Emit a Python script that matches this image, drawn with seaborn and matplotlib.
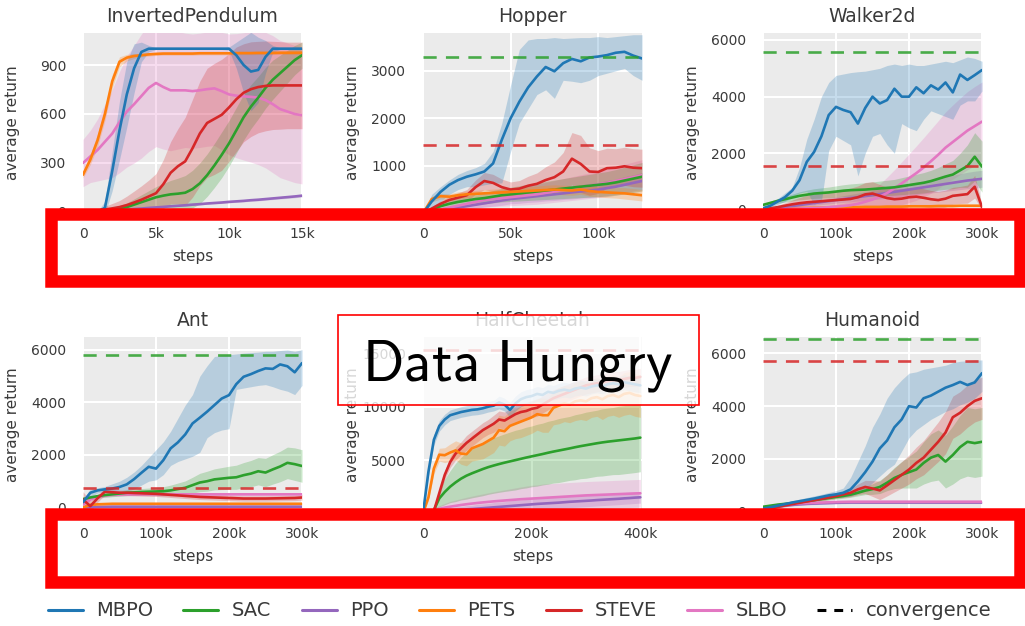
import numpy as np
import pandas as pd
import matplotlib
matplotlib.use("Agg")
import matplotlib.pyplot as plt
import seaborn as sns
from matplotlib.patches import Rectangle
from matplotlib.lines import Line2D

# ---------------------------------------------------------------- data
methods = ["MBPO", "SAC", "PPO", "PETS", "STEVE", "SLBO"]
palette = {"MBPO": "#1f77b4", "SAC": "#2ca02c", "PPO": "#9467bd",
           "PETS": "#ff7f0e", "STEVE": "#d62728", "SLBO": "#e377c2"}

# InvertedPendulum
ip_steps = list(range(0, 15001, 500))
ip_mbpo = [0, 0, 0, 25, 250, 500, 720, 880, 980, 1000, 1000, 1000, 1000, 1000, 1000, 1000, 1000, 1000, 1000, 1000,
           1000, 960, 900, 860, 870, 950, 1000, 1000, 1000, 1000, 1000]
ip_mbpo_sd = [0, 0, 5, 40, 120, 180, 200, 150, 60, 20, 5, 5, 5, 5, 5, 5, 5, 5, 5, 5,
              10, 80, 170, 240, 200, 100, 20, 5, 5, 5, 5]
ip_pets = [228, 320, 440, 600, 800, 920, 945, 955, 960, 965, 968, 970, 970, 970, 970, 970, 972, 972, 972, 972,
           972, 973, 973, 973, 974, 974, 974, 975, 975, 975, 975]
ip_pets_sd = [20, 30, 40, 40, 40, 30, 20, 15, 10, 10, 10, 10, 10, 10, 10, 10, 10, 10, 10, 10,
              10, 10, 10, 10, 10, 10, 10, 10, 10, 10, 10]
ip_slbo = [300, 340, 380, 430, 480, 550, 615, 660, 710, 760, 790, 765, 745, 745, 745, 740, 745, 752, 757, 740,
           720, 712, 708, 705, 700, 685, 660, 630, 615, 600, 592]
ip_slbo_sd = [145, 160, 190, 230, 270, 310, 340, 360, 380, 390, 390, 380, 370, 360, 350, 350, 350, 350, 350, 360,
              370, 380, 390, 400, 410, 415, 420, 420, 420, 420, 420]
ip_steve = [0, 3, 8, 15, 22, 30, 42, 58, 75, 95, 115, 170, 240, 280, 310, 390, 480, 545, 570, 595,
            640, 690, 730, 752, 765, 772, 775, 775, 775, 775, 775]
ip_steve_sd = [0, 5, 10, 20, 30, 40, 55, 70, 85, 100, 120, 150, 190, 230, 270, 300, 320, 335, 340, 340,
               330, 320, 300, 290, 280, 275, 270, 268, 265, 265, 265]
ip_sac = [0, 2, 5, 10, 15, 22, 30, 45, 60, 75, 90, 100, 108, 112, 118, 140, 175, 225, 285, 350,
          420, 500, 580, 645, 700, 760, 810, 850, 890, 930, 960]
ip_sac_sd = [0, 2, 4, 8, 12, 18, 25, 35, 45, 55, 65, 75, 85, 95, 105, 115, 125, 130, 135, 140,
             140, 140, 140, 135, 130, 125, 120, 110, 100, 90, 80]
ip_ppo = [0, 2, 4, 6, 9, 12, 15, 18, 21, 25, 28, 31, 35, 38, 41, 45, 48, 52, 55, 58,
          62, 65, 68, 72, 75, 79, 83, 87, 91, 95, 100]
ip_ppo_sd = [0, 1, 1, 2, 2, 2, 3, 3, 3, 3, 4, 4, 4, 4, 5, 5, 5, 5, 5, 6,
             6, 6, 6, 6, 7, 7, 7, 7, 8, 8, 8]

# Hopper
hop_steps = list(range(0, 125001, 5000))
hop_mbpo = [0, 250, 450, 600, 700, 770, 820, 880, 1050, 1550, 2000, 2350, 2650, 2880, 3080, 2990, 3160, 3250,
            3200, 3280, 3300, 3330, 3380, 3400, 3320, 3260]
hop_mbpo_lo = [0, 100, 250, 400, 500, 560, 560, 600, 630, 640, 1300, 1900, 2200, 2500, 2600, 2420, 2800, 2780,
               2750, 2800, 2900, 2950, 3000, 3050, 2900, 2800]
hop_mbpo_hi = [0, 400, 560, 700, 820, 900, 960, 1050, 1300, 1900, 2700, 3450, 3650, 3680, 3680, 3700, 3680, 3690,
               3700, 3700, 3720, 3700, 3720, 3740, 3760, 3760]
hop_steve = [0, 100, 200, 280, 330, 380, 550, 680, 640, 550, 500, 520, 580, 620, 700, 760, 880, 1150, 1040, 880,
             870, 950, 960, 990, 960, 950]
hop_steve_sd = [0, 40, 60, 80, 100, 120, 150, 180, 180, 170, 160, 170, 200, 230, 280, 320, 400, 550, 600, 500,
                450, 420, 400, 400, 400, 400]
hop_sac = [0, 80, 150, 200, 240, 270, 300, 320, 350, 380, 400, 420, 440, 460, 480, 500, 520, 540, 560, 580,
           600, 620, 650, 690, 730, 770]
hop_sac_sd = [0, 40, 60, 80, 90, 100, 110, 120, 130, 140, 150, 160, 170, 180, 190, 200, 210, 220, 230, 240,
              250, 260, 270, 280, 290, 300]
hop_pets = [0, 300, 360, 350, 380, 400, 410, 420, 430, 440, 450, 460, 470, 480, 490, 500, 490, 480, 500, 470,
            450, 440, 430, 420, 400, 380]
hop_pets_sd = [0, 60, 60, 60, 70, 70, 70, 80, 80, 80, 80, 90, 90, 90, 100, 100, 100, 100, 100, 110,
               110, 110, 110, 120, 120, 120]
hop_slbo = [0, 40, 80, 120, 160, 200, 240, 280, 300, 320, 340, 360, 380, 400, 430, 460, 490, 520, 550, 580,
            610, 640, 680, 720, 760, 800]
hop_slbo_sd = [0, 30, 50, 70, 90, 110, 130, 150, 160, 170, 180, 190, 200, 210, 220, 230, 240, 250, 260, 270,
               280, 290, 300, 310, 320, 330]
hop_ppo = [0, 30, 60, 90, 120, 150, 180, 210, 240, 270, 300, 320, 340, 360, 380, 400, 420, 440, 460, 480,
           500, 530, 560, 600, 640, 680]
hop_ppo_sd = [0, 20, 30, 40, 50, 60, 70, 80, 90, 100, 100, 110, 110, 120, 120, 130, 130, 140, 140, 150,
              150, 160, 160, 170, 170, 180]

# Walker2d
wk_steps = list(range(0, 300001, 10000))
wk_mbpo = [60, 150, 300, 450, 680, 1050, 1700, 2050, 2600, 3350, 3640, 3530, 3450, 3050, 3600, 4000, 3760, 3880,
           4280, 4000, 4000, 4330, 4120, 4400, 4250, 4500, 4150, 4780, 4590, 4760, 4940]
wk_mbpo_lo = [40, 100, 200, 300, 450, 600, 650, 200, 300, 2100, 2600, 2450, 2300, 1200, 2000, 2600, 2700, 2300,
              2000, 3050, 2900, 2800, 3200, 3500, 3400, 3300, 3200, 3700, 3850, 3850, 4200]
wk_mbpo_hi = [80, 200, 400, 600, 800, 1500, 2500, 3200, 4000, 4500, 4750, 4800, 4850, 4880, 4900, 4950, 5000, 5100,
              5150, 5100, 5150, 5100, 5100, 5150, 5200, 5250, 5200, 5300, 5400, 5350, 5250]
wk_slbo = [0, 10, 20, 30, 40, 50, 60, 70, 80, 100, 120, 140, 170, 220, 290, 370, 470, 600, 760, 940,
           1120, 1300, 1500, 1720, 1950, 2200, 2400, 2600, 2800, 2960, 3120]
wk_slbo_sd = [0, 10, 15, 20, 25, 30, 35, 40, 50, 60, 80, 100, 140, 200, 260, 330, 450, 560, 660, 760,
              860, 960, 1050, 1130, 1200, 1260, 1310, 1350, 1380, 1400, 1400]
wk_sac = [180, 250, 320, 380, 440, 500, 540, 580, 600, 620, 650, 680, 700, 710, 720, 740, 760, 780, 800, 840,
          880, 920, 960, 1020, 1100, 1180, 1250, 1400, 1550, 1880, 1530]
wk_sac_sd = [40, 60, 80, 100, 120, 140, 160, 170, 180, 190, 200, 210, 220, 230, 240, 250, 260, 270, 280, 300,
             320, 340, 360, 380, 400, 450, 500, 600, 750, 850, 900]
wk_steve = [20, 60, 100, 150, 200, 240, 270, 290, 310, 330, 350, 370, 390, 450, 550, 580, 500, 420, 380, 400,
            450, 470, 430, 380, 350, 400, 500, 530, 560, 820, 100]
wk_steve_sd = [0, 30, 60, 100, 150, 200, 250, 280, 300, 320, 340, 360, 380, 400, 420, 420, 400, 380, 360, 350,
               340, 330, 320, 310, 300, 300, 300, 300, 320, 400, 100]
wk_ppo = [0, 35, 70, 105, 140, 175, 210, 245, 280, 315, 350, 385, 420, 455, 490, 525, 560, 600, 640, 680,
          720, 760, 800, 840, 880, 920, 960, 1000, 1040, 1070, 1100]
wk_ppo_sd = [0, 20, 30, 40, 50, 60, 70, 80, 90, 100, 110, 120, 130, 140, 150, 160, 170, 180, 190, 200,
             210, 220, 230, 240, 250, 260, 270, 280, 290, 300, 300]
wk_pets = [0, 20, 40, 50, 60, 70, 70, 80, 80, 90, 90, 100, 100, 100, 110, 110, 110, 120, 120, 120,
           130, 130, 130, 130, 140, 140, 140, 150, 150, 150, 150]
wk_pets_sd = [0, 20, 30, 30, 30, 30, 30, 30, 30, 30, 30, 30, 30, 30, 30, 30, 30, 30, 30, 30,
              30, 30, 30, 30, 30, 30, 30, 30, 30, 30, 30]

# Ant
ant_steps = list(range(0, 300001, 10000))
ant_mbpo = [200, 560, 650, 690, 720, 780, 880, 1080, 1320, 1550, 1480, 1800, 2250, 2480, 2780, 3200, 3420, 3650,
            3900, 4150, 4280, 4700, 4980, 5080, 5200, 5300, 5280, 5450, 5380, 5150, 5500]
ant_mbpo_lo = [100, 400, 550, 600, 600, 620, 630, 700, 850, 1000, 1050, 1250, 1600, 1750, 1850, 1950, 2100, 2660,
               2850, 2950, 3000, 4500, 4550, 4600, 4650, 4680, 4600, 4500, 4430, 4300, 4650]
ant_mbpo_hi = [300, 700, 750, 800, 900, 1000, 1150, 1350, 1600, 1900, 2200, 2500, 2900, 3400, 3900, 4300, 5000,
               5400, 5750, 5800, 5820, 5850, 5880, 5900, 5920, 5950, 5950, 5980, 6000, 5950, 6010]
ant_sac = [320, 380, 430, 470, 500, 530, 560, 575, 590, 600, 610, 620, 650, 700, 750, 850, 950, 1000, 1070, 1100,
           1130, 1150, 1230, 1290, 1380, 1330, 1450, 1560, 1700, 1650, 1580]
ant_sac_sd = [50, 60, 70, 80, 90, 100, 110, 120, 130, 140, 150, 170, 200, 230, 260, 300, 350, 380, 400, 420,
              440, 460, 480, 500, 520, 540, 560, 580, 600, 620, 620]
ant_steve = [300, 50, 350, 600, 580, 560, 560, 550, 540, 530, 520, 500, 480, 460, 440, 420, 400, 390, 380, 370,
             360, 350, 340, 340, 340, 340, 345, 350, 355, 360, 380]
ant_steve_sd = [300, 200, 150, 120, 110, 100, 100, 100, 100, 100, 100, 100, 100, 100, 100, 100, 100, 100, 100, 100,
                100, 100, 100, 100, 100, 100, 100, 100, 100, 100, 100]
ant_slbo = [100, 300, 400, 450, 480, 490, 500, 500, 500, 500, 500, 500, 500, 500, 500, 500, 500, 500, 500, 500,
            500, 500, 500, 500, 500, 500, 500, 500, 500, 500, 500]
ant_slbo_sd = [20, 40, 50, 60, 60, 60, 60, 60, 60, 60, 60, 60, 60, 60, 60, 60, 60, 60, 60, 60,
               60, 60, 60, 60, 60, 60, 60, 60, 60, 60, 60]
ant_pets = [0, 100, 120, 130, 140, 140, 140, 140, 140, 140, 140, 140, 140, 140, 140, 140, 140, 140, 140, 140,
            140, 140, 140, 140, 140, 140, 140, 140, 140, 140, 140]
ant_pets_sd = [0, 40, 50, 50, 50, 50, 50, 50, 50, 50, 50, 50, 50, 50, 50, 50, 50, 50, 50, 50,
               50, 50, 50, 50, 50, 50, 50, 50, 50, 50, 50]
ant_ppo = [0, 10, 20, 25, 30, 30, 30, 30, 30, 30, 30, 30, 30, 30, 30, 30, 30, 30, 30, 30,
           30, 30, 30, 30, 30, 30, 30, 30, 30, 30, 30]
ant_ppo_sd = [0, 10, 20, 20, 20, 20, 20, 20, 20, 20, 20, 20, 20, 20, 20, 20, 20, 20, 20, 20,
              20, 20, 20, 20, 20, 20, 20, 20, 20, 20, 20]

# HalfCheetah
hc_steps = list(range(0, 400001, 10000))
hc_mbpo = [0, 3900, 6900, 8200, 8800, 9200, 9350, 9500, 9600, 9700, 9750, 9850, 10000, 10100, 10400, 10200, 9700,
           10300, 10700, 10900, 11000, 11200, 11100, 11400, 11300, 11500, 11600, 11500, 11700, 11800, 11700, 11900,
           12000, 11900, 12100, 12200, 12100, 12300, 12200, 12100, 12000]
hc_mbpo_sd = [0, 400, 500, 500, 500, 500, 500, 500, 500, 500, 500, 500, 500, 500, 600, 600, 700, 700, 700, 700,
              700, 700, 700, 700, 700, 700, 700, 700, 700, 700, 700, 700, 700, 700, 700, 700, 700, 700, 700, 700, 700]
hc_pets = [0, 1500, 4200, 5500, 5450, 5700, 5900, 5600, 5550, 6100, 6300, 6500, 6800, 7100, 7800, 7700, 8200, 8400,
           8600, 8800, 9000, 9300, 9200, 9200, 9900, 10100, 10300, 10200, 10500, 10600, 10500, 10800, 10900, 10700,
           11000, 11100, 10900, 11200, 11300, 11100, 11000]
hc_pets_sd = [0, 300, 500, 600, 700, 800, 900, 1000, 1100, 1200, 1300, 1400, 1400, 1400, 1400, 1400, 1400, 1400,
              1500, 1500, 1500, 1500, 1600, 1600, 1600, 1700, 1700, 1700, 1800, 1800, 1800, 1800, 1800, 1900, 1900,
              1900, 1900, 2000, 2000, 2000, 2000]
hc_steve = [0, 0, 200, 1900, 3600, 4800, 5600, 6100, 6600, 7000, 7400, 7800, 8100, 8400, 8800, 8700, 9000, 9300,
            9500, 9600, 9800, 9900, 10200, 10500, 10800, 11000, 11200, 11400, 11600, 11800, 12000, 12100, 12200,
            12300, 12400, 12500, 12500, 12600, 12700, 12700, 12800]
hc_steve_sd = [0, 0, 100, 300, 400, 500, 600, 600, 700, 700, 700, 700, 700, 800, 800, 800, 800, 800, 800, 800,
               800, 800, 800, 800, 800, 800, 800, 800, 800, 800, 800, 800, 800, 800, 800, 800, 800, 800, 800, 800, 800]
hc_sac = [0, 0, 300, 1400, 2000, 2500, 2900, 3250, 3530, 3750, 3950, 4150, 4330, 4480, 4620, 4750, 4870, 4990,
          5110, 5230, 5340, 5450, 5560, 5680, 5790, 5890, 5990, 6090, 6200, 6300, 6390, 6480, 6570, 6650, 6720,
          6780, 6840, 6900, 6960, 7020, 7100]
hc_sac_sd = [0, 0, 200, 800, 1200, 1500, 1800, 2000, 2200, 2300, 2400, 2500, 2550, 2600, 2650, 2700, 2750, 2800,
             2800, 2850, 2850, 2900, 2900, 2950, 2950, 3000, 3000, 3000, 3050, 3050, 3100, 3100, 3100, 3150, 3150,
             3150, 3200, 3200, 3200, 3200, 3200]
hc_slbo = [0, 150, 300, 420, 530, 620, 700, 780, 850, 910, 970, 1020, 1070, 1120, 1160, 1200, 1240, 1280, 1320,
           1350, 1380, 1410, 1440, 1470, 1500, 1530, 1560, 1590, 1620, 1650, 1680, 1700, 1720, 1740, 1760, 1780,
           1800, 1820, 1840, 1860, 1880]
hc_slbo_sd = [0, 100, 200, 300, 400, 500, 550, 600, 650, 700, 750, 800, 850, 900, 950, 1000, 1050, 1100, 1150,
              1200, 1250, 1250, 1300, 1300, 1300, 1300, 1300, 1300, 1300, 1300, 1300, 1300, 1300, 1300, 1300, 1300,
              1300, 1300, 1300, 1300, 1300]
hc_ppo = [0, 50, 100, 150, 200, 250, 290, 330, 370, 400, 440, 480, 520, 560, 600, 640, 680, 720, 760, 800,
          840, 880, 910, 940, 970, 1000, 1040, 1080, 1110, 1140, 1170, 1200, 1240, 1270, 1300, 1330, 1360, 1400,
          1430, 1470, 1500]
hc_ppo_sd = [0, 50, 100, 150, 200, 250, 300, 300, 350, 350, 400, 400, 400, 450, 450, 450, 500, 500, 500, 500,
             550, 550, 550, 550, 550, 550, 550, 550, 550, 550, 550, 550, 550, 550, 550, 550, 550, 550, 550, 550, 550]

# Humanoid
hm_steps = list(range(0, 300001, 10000))
hm_mbpo = [120, 170, 230, 290, 350, 400, 450, 500, 560, 620, 660, 720, 850, 1150, 1500, 1900, 2400, 2700, 3200,
           3500, 4000, 3950, 4300, 4400, 4550, 4700, 4800, 4920, 4800, 4900, 5250]
hm_mbpo_lo = [80, 120, 170, 230, 280, 320, 370, 410, 460, 510, 550, 560, 600, 700, 850, 1100, 1350, 1600, 1800,
              2300, 2800, 3100, 3300, 3500, 3650, 3800, 3900, 4050, 4150, 4300, 4560]
hm_mbpo_hi = [170, 220, 290, 350, 420, 480, 540, 600, 660, 730, 800, 900, 1300, 1900, 2500, 3200, 3700, 4300, 4700,
              5000, 5250, 5300, 5400, 5450, 5500, 5550, 5650, 5700, 5720, 5750, 5750]
hm_steve = [60, 120, 180, 240, 290, 340, 390, 440, 490, 540, 600, 660, 720, 850, 940, 880, 810, 1000, 1200, 1400,
            1600, 1850, 2050, 2350, 2650, 3000, 3580, 3750, 4000, 4200, 4300]
hm_steve_sd = [20, 30, 40, 50, 60, 60, 70, 70, 80, 80, 100, 120, 150, 200, 250, 300, 350, 400, 450, 500,
               550, 600, 650, 700, 750, 800, 800, 800, 800, 800, 800]
hm_sac = [190, 230, 270, 300, 330, 360, 400, 440, 480, 520, 560, 600, 650, 720, 800, 860, 940, 1100, 1280, 1400,
          1500, 1600, 1850, 2050, 2150, 1900, 2150, 2450, 2650, 2600, 2650]
hm_sac_sd = [30, 30, 40, 40, 50, 50, 60, 60, 70, 70, 80, 90, 100, 120, 150, 200, 250, 300, 400, 500,
             600, 700, 800, 900, 950, 1000, 1100, 1200, 1300, 1300, 1300]
hm_slbo = [150, 200, 250, 280, 300, 320, 330, 340, 350, 360, 370, 375, 380, 380, 380, 380, 380, 380, 380, 380,
           380, 380, 380, 380, 380, 380, 380, 380, 380, 380, 380]
hm_slbo_sd = [20, 30, 30, 40, 40, 40, 40, 40, 40, 40, 40, 40, 40, 40, 40, 40, 40, 40, 40, 40,
              40, 40, 40, 40, 40, 40, 40, 40, 40, 40, 40]
hm_ppo = [100, 150, 200, 230, 260, 280, 300, 310, 320, 330, 340, 345, 350, 350, 350, 350, 350, 350, 350, 350,
          350, 350, 350, 350, 350, 350, 350, 350, 350, 350, 350]
hm_ppo_sd = [20, 30, 30, 40, 40, 40, 40, 40, 40, 40, 40, 40, 40, 40, 40, 40, 40, 40, 40, 40,
             40, 40, 40, 40, 40, 40, 40, 40, 40, 40, 40]

# asymptotic reference levels (dashed)
hop_conv = {"SAC": 3300, "STEVE": 1430}
wk_conv = {"SAC": 5560, "STEVE": 1565}
ant_conv = {"SAC": 5800, "STEVE": 740}
hc_conv = {"STEVE": 15300}
hm_conv = {"SAC": 6560, "STEVE": 5725}

# axis ticks
ip_xticks, ip_xlabels = [0, 5000, 10000, 15000], ["0", "5k", "10k", "15k"]
hop_xticks, hop_xlabels = [0, 50000, 100000], ["0", "50k", "100k"]
k300_xticks, k300_xlabels = [0, 100000, 200000, 300000], ["0", "100k", "200k", "300k"]
hc_xticks, hc_xlabels = [0, 200000, 400000], ["0", "200k", "400k"]
ip_yticks = [0, 300, 600, 900]
hop_yticks = [0, 1000, 2000, 3000]
k6_yticks = [0, 2000, 4000, 6000]
hc_yticks = [0, 5000, 10000, 15000]

# ---------------------------------------------------------------- style
sns.set_theme(style="darkgrid", rc={
    "axes.facecolor": "#EBEBEB",
    "grid.color": "white",
    "grid.linewidth": 1.5,
    "xtick.major.pad": 5.5,
    "ytick.major.pad": 12,
})
plt.rcParams["font.family"] = ["DejaVu Sans"]
TXT = "#3a3a3a"

W, H = 1025, 626
fig = plt.figure(figsize=(W / 100, H / 100), dpi=100)


def px_axes(left, top, width, height):
    return fig.add_axes([left / W, 1 - (top + height) / H, width / W, height / H])


panels = [
    dict(title="InvertedPendulum", box=(83, 33, 219, 186), steps=ip_steps, xlim=(0, 15000), ylim=(-43, 1096),
         xt=(ip_xticks, ip_xlabels), yt=ip_yticks, conv={},
         series=[("PPO", ip_ppo, ip_ppo_sd), ("SLBO", ip_slbo, ip_slbo_sd), ("SAC", ip_sac, ip_sac_sd),
                 ("STEVE", ip_steve, ip_steve_sd), ("PETS", ip_pets, ip_pets_sd), ("MBPO", ip_mbpo, ip_mbpo_sd)]),
    dict(title="Hopper", box=(423, 33, 219, 186), steps=hop_steps, xlim=(0, 125000), ylim=(-120, 3796),
         xt=(hop_xticks, hop_xlabels), yt=hop_yticks, conv=hop_conv,
         series=[("PPO", hop_ppo, hop_ppo_sd), ("SLBO", hop_slbo, hop_slbo_sd), ("SAC", hop_sac, hop_sac_sd),
                 ("STEVE", hop_steve, hop_steve_sd), ("PETS", hop_pets, hop_pets_sd),
                 ("MBPO", hop_mbpo, (hop_mbpo_lo, hop_mbpo_hi))]),
    dict(title="Walker2d", box=(763, 33, 219, 186), steps=wk_steps, xlim=(0, 300000), ylim=(-318, 6247),
         xt=(k300_xticks, k300_xlabels), yt=k6_yticks, conv=wk_conv,
         series=[("PETS", wk_pets, wk_pets_sd), ("PPO", wk_ppo, wk_ppo_sd), ("SLBO", wk_slbo, wk_slbo_sd),
                 ("SAC", wk_sac, wk_sac_sd), ("STEVE", wk_steve, wk_steve_sd),
                 ("MBPO", wk_mbpo, (wk_mbpo_lo, wk_mbpo_hi))]),
    dict(title="Ant", box=(83, 337, 219, 182), steps=ant_steps, xlim=(0, 300000), ylim=(-440, 6495),
         xt=(k300_xticks, k300_xlabels), yt=k6_yticks, conv=ant_conv,
         series=[("PPO", ant_ppo, ant_ppo_sd), ("PETS", ant_pets, ant_pets_sd), ("SLBO", ant_slbo, ant_slbo_sd),
                 ("SAC", ant_sac, ant_sac_sd), ("STEVE", ant_steve, ant_steve_sd),
                 ("MBPO", ant_mbpo, (ant_mbpo_lo, ant_mbpo_hi))]),
    dict(title="HalfCheetah", box=(423, 337, 219, 182), steps=hc_steps, xlim=(0, 403000), ylim=(-535, 16540),
         xt=(hc_xticks, hc_xlabels), yt=hc_yticks, conv=hc_conv,
         series=[("PPO", hc_ppo, hc_ppo_sd), ("SLBO", hc_slbo, hc_slbo_sd), ("SAC", hc_sac, hc_sac_sd),
                 ("STEVE", hc_steve, hc_steve_sd), ("PETS", hc_pets, hc_pets_sd), ("MBPO", hc_mbpo, hc_mbpo_sd)]),
    dict(title="Humanoid", box=(763, 337, 219, 182), steps=hm_steps, xlim=(0, 300000), ylim=(-274, 6620),
         xt=(k300_xticks, k300_xlabels), yt=k6_yticks, conv=hm_conv,
         series=[("PPO", hm_ppo, hm_ppo_sd), ("SLBO", hm_slbo, hm_slbo_sd), ("SAC", hm_sac, hm_sac_sd),
                 ("STEVE", hm_steve, hm_steve_sd), ("MBPO", hm_mbpo, (hm_mbpo_lo, hm_mbpo_hi))]),
]

for p in panels:
    ax = px_axes(*p["box"])
    x = np.asarray(p["steps"], dtype=float)
    for name, mean, spread in p["series"]:
        mean = np.asarray(mean, dtype=float)
        if isinstance(spread, tuple):
            lo, hi = (np.asarray(s, dtype=float) for s in spread)
        else:
            sd = np.asarray(spread, dtype=float)
            lo, hi = mean - sd, mean + sd
        ax.fill_between(x, lo, hi, color=palette[name], alpha=0.25, linewidth=0)
        sns.lineplot(x=x, y=mean, ax=ax, color=palette[name], linewidth=1.9, legend=False)
    for name, level in p["conv"].items():
        ax.axhline(level, color=palette[name], linewidth=1.9, linestyle=(0, (5, 3.5)), alpha=0.85)
    ax.set_xlim(*p["xlim"])
    ax.set_ylim(*p["ylim"])
    ax.set_xticks(p["xt"][0])
    ax.set_xticklabels(p["xt"][1])
    ax.set_yticks(p["yt"])
    ax.tick_params(labelsize=10, colors=TXT, length=0)
    ax.set_title(p["title"], fontsize=13.5, color=TXT, pad=8)
    ax.set_xlabel("steps", fontsize=11, color=TXT)
    ax.set_ylabel("average return", fontsize=11, color=TXT)
    h = p["box"][3]
    ax.xaxis.set_label_coords(0.5, -30 / h)
    ax.yaxis.set_label_coords(-63 / 219, 0.52)
    for s in ax.spines.values():
        s.set_visible(False)

# legend along the bottom
handles = [Line2D([], [], color=palette[m], linewidth=2.2) for m in methods]
handles.append(Line2D([], [], color="black", linewidth=2.2, linestyle=(0, (2.9, 2.6))))
leg = fig.legend(handles, methods + ["convergence"], loc="center", ncol=7, frameon=False,
                 bbox_to_anchor=(519.5 / W, 1 - 611 / H), fontsize=14, handlelength=1.8,
                 handletextpad=0.7, columnspacing=1.55)
for t in leg.get_texts():
    t.set_color(TXT)

# thick red frames around the step axes
for (x0, y0, x1, y1) in [(51, 213.75, 1020, 281), (51, 513.5, 1020, 582)]:
    fig.add_artist(Rectangle((x0 / W, 1 - y1 / H), (x1 - x0) / W, (y1 - y0) / H,
                             transform=fig.transFigure, fill=False, edgecolor="#ff0000",
                             linewidth=9, joinstyle="miter", zorder=3))

# annotation box
fig.add_artist(Rectangle((338 / W, 1 - 405 / H), (699 - 338) / W, (405 - 315) / H,
                         transform=fig.transFigure, facecolor=(1, 1, 1, 0.8), edgecolor="#ff0000",
                         linewidth=1.2, zorder=4))
fig.text(517.5 / W, 1 - 380 / H, r"$\mathsf{Data\ Hungry}$", math_fontfamily="cm", fontsize=41.5,
         ha="center", va="baseline", color="black", zorder=5)

fig.savefig("out.png", dpi=100)
